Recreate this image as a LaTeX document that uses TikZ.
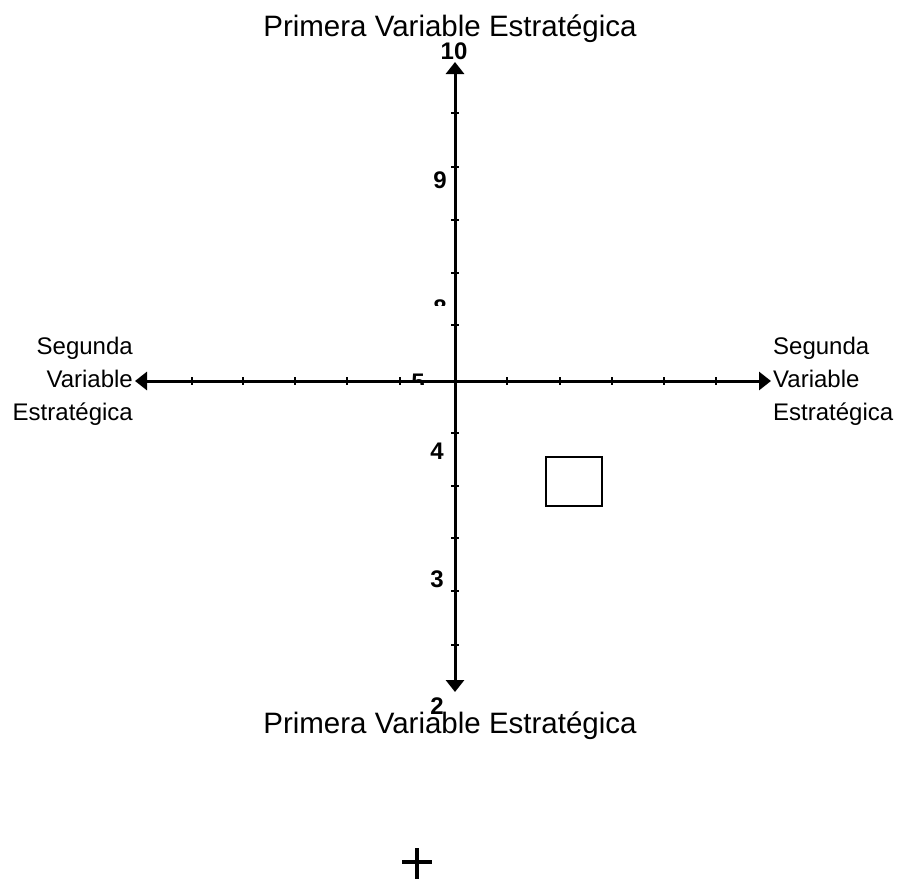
\documentclass[tikz,border=0pt]{standalone}
\usepackage{fontspec}
\setmainfont{Liberation Sans}
\usetikzlibrary{arrows.meta}
\begin{document}
\begin{tikzpicture}[x=1pt,y=-1pt,
  axis/.style={line width=3pt,{Triangle[width=18pt,length=12pt]}-{Triangle[width=18pt,length=12pt]}},
  tick/.style={line width=2pt},
  num/.style={font=\fontsize{24}{24}\selectfont\bfseries,inner sep=0pt},
  title/.style={font=\fontsize{29.5}{30}\selectfont,inner sep=0pt},
  side/.style={font=\fontsize{24}{33}\selectfont,inner sep=0pt},
  box/.style={draw,line width=1.6pt}]
\useasboundingbox (0,0) rectangle (897,879);
\coordinate (O) at (455,381);
\coordinate (top) at (455,62);
\coordinate (bot) at (455,692);
\coordinate (left) at (135,381);
\coordinate (right) at (771,381);
\draw[axis] (bot) -- (top);
\draw[axis] (left) -- (right);
\foreach \y in {113,167,220,273,325,433,486,538,591,645}
  \draw[tick] (451,\y) -- (459,\y);
\foreach \x in {192,243,295,347,400,507,560,612,664,716}
  \draw[tick] (\x,377) -- (\x,385);
\node[title] (t1) at (450,29) {Primera Variable Estratégica};
\node[title] (t2) at (450,726) {Primera Variable Estratégica};
\node[side,align=right,anchor=east] (sl) at (133,381) {Segunda\\Variable\\Estratégica};
\node[side,align=left,anchor=west] (sr) at (773,381) {Segunda\\Variable\\Estratégica};
\node[num] (n10) at (454,51) {10};
\node[num] (n9) at (440,180) {9};
\begin{scope}
  \clip (420,290) rectangle (460,305);
  \node[num] (n8) at (440,308) {8};
\end{scope}
\begin{scope}
  \clip (400,365) rectangle (430,384);
  \node[num] (n5) at (418,382) {5};
\end{scope}
\node[num] (n4) at (437,451) {4};
\node[num] (n3) at (437,579) {3};
\node[num] (n2) at (437,706) {2};
\node[box,minimum width=56pt,minimum height=49pt,inner sep=0pt] (r) at (574,481.5) {};
\coordinate (pc) at (417,862);
\draw[line width=3.5pt] (402,862) -- (432,862);
\draw[line width=3.5pt] (417,848) -- (417,879);
\end{tikzpicture}
\end{document}
